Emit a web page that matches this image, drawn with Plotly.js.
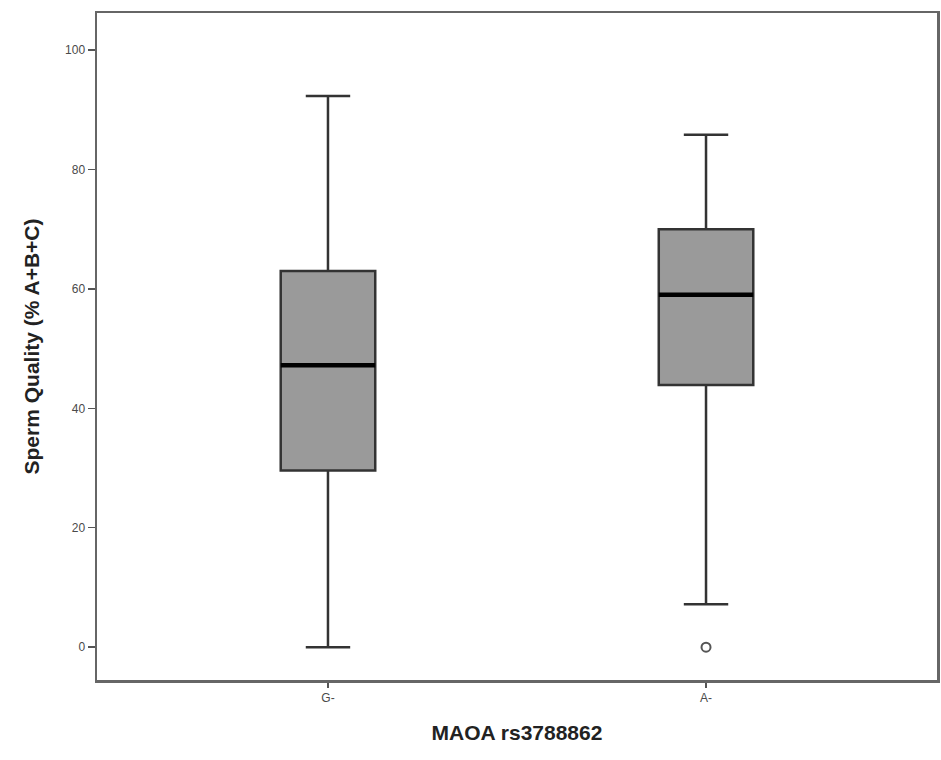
<!DOCTYPE html>
<html>
<head>
<meta charset="utf-8">
<script src="https://cdn.plot.ly/plotly-3.0.1.min.js"></script>
<style>html,body{margin:0;padding:0;background:#fff;}#chart{width:941px;height:760px;}</style>
</head>
<body>
<div id="chart"></div>
<script>
// Data
const categories = ["G-", "A-"];
const lowerWhisker = [0, 7.2];
const q1Values = [29.6, 43.9];
const medianValues = [47.2, 59.0];
const q3Values = [63.0, 70.0];
const upperWhisker = [92.3, 85.8];
const outlierCategory = [1];
const outlierValues = [0];
const yTickVals = [0, 20, 40, 60, 80, 100];

const boxWidth = 0.25;
const traces = [];
categories.forEach(function (c, i) {
  traces.push({
    type: "box",
    x: [i],
    q1: [q1Values[i]],
    median: [medianValues[i]],
    q3: [q3Values[i]],
    lowerfence: [lowerWhisker[i]],
    upperfence: [upperWhisker[i]],
    width: boxWidth,
    whiskerwidth: 0.47,
    fillcolor: "#9a9a9a",
    line: { color: "#333333", width: 2.5 },
    boxpoints: false,
    hoverinfo: "skip",
    showlegend: false
  });
  // thick median bar over the box
  traces.push({
    type: "scatter",
    mode: "lines",
    x: [i - boxWidth / 2, i + boxWidth / 2],
    y: [medianValues[i], medianValues[i]],
    line: { color: "#000000", width: 4.5 },
    hoverinfo: "skip",
    showlegend: false
  });
});
traces.push({
  type: "scatter",
  mode: "markers",
  x: outlierCategory,
  y: outlierValues,
  marker: { symbol: "circle-open", size: 9, color: "#555555", line: { width: 2, color: "#555555" } },
  hoverinfo: "skip",
  showlegend: false
});

const layout = {
  width: 941,
  height: 760,
  margin: { l: 97, r: 4, t: 13, b: 80 },
  paper_bgcolor: "#ffffff",
  plot_bgcolor: "#ffffff",
  font: { family: "Liberation Sans, Arial, sans-serif", color: "#4a4a4a" },
  showlegend: false,
  xaxis: {
    range: [-0.611, 1.611],
    tickmode: "array",
    tickvals: categories.map(function (c, i) { return i; }),
    ticktext: categories,
    ticks: "outside",
    ticklen: 5,
    tickwidth: 1.5,
    tickcolor: "#555555",
    tickfont: { size: 12, color: "#4a4a4a" },
    showgrid: false,
    zeroline: false,
    showline: true,
    linecolor: "#666666",
    linewidth: 2.5,
    mirror: true,
    title: { text: "<b>MAOA rs3788862</b>", font: { size: 21, color: "#222222" }, standoff: 22 }
  },
  yaxis: {
    range: [-5.5, 106.2],
    tickmode: "array",
    tickvals: yTickVals,
    ticks: "outside",
    ticklen: 7,
    tickwidth: 1.5,
    tickcolor: "#555555",
    tickfont: { size: 12, color: "#4a4a4a" },
    showgrid: false,
    zeroline: false,
    showline: true,
    linecolor: "#666666",
    linewidth: 2.5,
    mirror: true,
    title: { text: "<b>Sperm Quality (% A+B+C)</b>", font: { size: 21, color: "#222222" }, standoff: 20 }
  }
};

Plotly.newPlot("chart", traces, layout, { displayModeBar: false, staticPlot: true });
</script>
</body>
</html>
